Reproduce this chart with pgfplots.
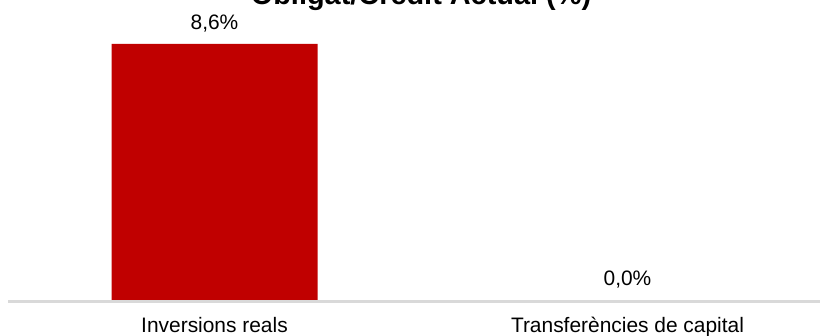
\documentclass[border=0pt]{standalone}
\usepackage{pgfplots}
\pgfplotsset{compat=1.18}
\usepackage{fontspec}
\setmainfont{Liberation Sans}
\definecolor{barred}{HTML}{C00000}
\definecolor{axgray}{HTML}{D9D9D9}
\begin{document}
\begin{tikzpicture}
\begin{axis}[
  scale only axis,
  width=826bp, height=297.7bp,
  at={(0,0)}, anchor=south west,
  xmin=-0.5, xmax=1.5,
  ymin=0, ymax=10,
  hide y axis,
  axis line style={draw=none},
  xtick=data,
  xticklabels={Inversions reals, Transferències de capital},
  xtick style={draw=none},
  ybar, bar width=206bp,
  /pgf/number format/assume math mode=true,
  ticklabel style={font=\fontsize{21}{25}\selectfont},
  xticklabel style={anchor=base, yshift=-28.5bp},
  nodes near coords={\pgfmathprintnumber[fixed,fixed zerofill,precision=1,use comma,assume math mode=true]{\pgfplotspointmeta}\%},
  nodes near coords style={anchor=base, yshift=14.5bp, font=\fontsize{21}{25}\selectfont, text=black},
  title={\textbf{Obligat/Crèdit Actual (\%)}},
  title style={at={(0.5,1)}, anchor=base, yshift=-7.7bp, font=\fontsize{29}{34}\selectfont},
  clip=false,
]
\addplot[fill=barred, draw=none] coordinates {(0,8.6) (1,0.0)};
\draw[axgray, line width=3bp] ([yshift=-1.5bp]rel axis cs:0,0) -- ([yshift=-1.5bp]rel axis cs:1,0);
\end{axis}
\pgfresetboundingbox
\useasboundingbox (-8bp,-36bp) rectangle (812bp,300bp);
\end{tikzpicture}
\end{document}
